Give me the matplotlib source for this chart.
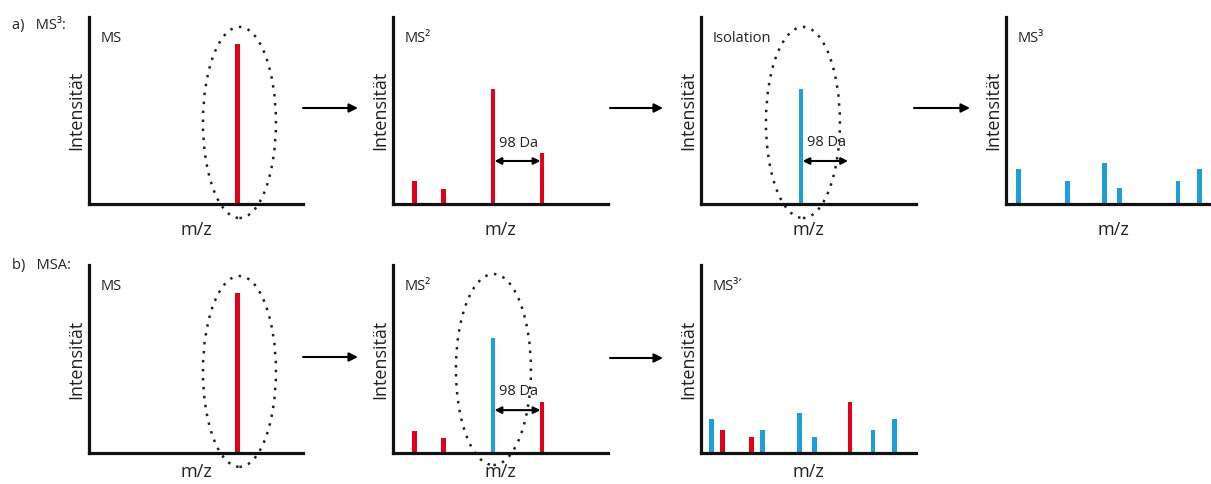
import matplotlib
matplotlib.use("Agg")
import matplotlib.pyplot as plt
from matplotlib.patches import Ellipse, FancyArrowPatch

plt.rcParams['font.family'] = ['Open Sans', 'DejaVu Sans']

W, H = 1211, 484
RED = '#e2001a'
BLUE = '#1e9fd9'

# ---- data (m/z in arbitrary units 0-100, intensity in % of axis height) ----
a1_mz = [69.2]
a1_int = [85.6]
a1_col = ['r']

a2_mz = [10.2, 23.7, 46.5, 69.3]
a2_int = [12.3, 8.0, 61.5, 27.3]
a2_col = ['r', 'r', 'r', 'r']

a3_mz = [46.5]
a3_int = [61.5]
a3_col = ['b']

a4_mz = [6.0, 28.8, 46.0, 53.0, 80.0, 89.8]
a4_int = [18.7, 12.3, 21.9, 8.6, 12.3, 18.7]
a4_col = ['b', 'b', 'b', 'b', 'b', 'b']

b1_mz = [69.2]
b1_int = [85.1]
b1_col = ['r']

b2_mz = [10.2, 23.7, 46.5, 69.3]
b2_int = [11.7, 8.0, 61.2, 27.1]
b2_col = ['r', 'r', 'b', 'r']

b3_mz = [5.1, 10.2, 23.3, 28.8, 46.0, 53.0, 69.3, 80.0, 89.8]
b3_int = [18.1, 12.2, 8.5, 12.2, 21.3, 8.5, 27.1, 12.2, 18.1]
b3_col = ['b', 'r', 'r', 'b', 'b', 'b', 'r', 'b', 'b']

titles = ['MS', 'MS²', 'Isolation', 'MS³', 'MS', 'MS²', 'MS³´']
row_labels = ['a)   MS³:', 'b)   MSA:']
loss_label = '98 Da'

fig = plt.figure(figsize=(W / 100, H / 100), dpi=100)


def make_axes(left, right, bottom, top, xpad=12):
    ax = fig.add_axes([left / W, 1 - bottom / H, (right - left) / W, (bottom - top) / H])
    ax.set_xlim(0, 100)
    ax.set_ylim(0, 100)
    for s in ['top', 'right']:
        ax.spines[s].set_visible(False)
    for s in ['left', 'bottom']:
        ax.spines[s].set_linewidth(2.3)
        ax.spines[s].set_color('#111111')
    ax.set_xticks([])
    ax.set_yticks([])
    ax.set_ylabel('Intensität', fontsize=13, labelpad=3, color='#222222')
    ax.set_xlabel('m/z', fontsize=13, labelpad=xpad, color='#222222')
    ax.patch.set_alpha(0)
    return ax


def peaks(ax, mz, inten, cols):
    c = [RED if k == 'r' else BLUE for k in cols]
    ax.bar(mz, inten, width=2.3, color=c, linewidth=0)


def ellipse(ax, cx, cy, w, h):
    e = Ellipse((cx, cy), w, h, fill=False, edgecolor='#222222', lw=1.8,
                linestyle=(0, (1, 2.6)), clip_on=False)
    ax.add_patch(e)


def loss_arrow(ax, x0, x1, y, ty, tx):
    ax.annotate('', xy=(x1, y), xytext=(x0, y),
                arrowprops=dict(arrowstyle='<|-|>', color='black', lw=1.5,
                                mutation_scale=10, shrinkA=0, shrinkB=0))
    ax.text(tx, ty, loss_label, fontsize=10.5, ha='center', va='center', color='#222222')


def title(ax, s):
    ax.text(0.055, 0.885, s, transform=ax.transAxes, fontsize=10.5,
            ha='left', va='center', color='#222222')


# row a
ax_a1 = make_axes(89, 303, 204, 17)
peaks(ax_a1, a1_mz, a1_int, a1_col)
ellipse(ax_a1, 70.3, 43.6, 34.1, 102.2)
title(ax_a1, titles[0])

ax_a2 = make_axes(393, 608, 204, 17)
peaks(ax_a2, a2_mz, a2_int, a2_col)
loss_arrow(ax_a2, 47.2, 68.6, 23.0, 32.6, 58.6)
title(ax_a2, titles[1])

ax_a3 = make_axes(701, 916, 204, 17)
peaks(ax_a3, a3_mz, a3_int, a3_col)
ellipse(ax_a3, 47.4, 43.6, 34.4, 102.2)
loss_arrow(ax_a3, 47.2, 68.4, 23.0, 33.0, 58.4)
title(ax_a3, titles[2])

ax_a4 = make_axes(1006, 1221, 204, 17)
peaks(ax_a4, a4_mz, a4_int, a4_col)
title(ax_a4, titles[3])

# row b
ax_b1 = make_axes(89, 303, 453, 265, xpad=7)
peaks(ax_b1, b1_mz, b1_int, b1_col)
ellipse(ax_b1, 70.3, 43.4, 34.1, 101.5)
title(ax_b1, titles[4])

ax_b2 = make_axes(393, 608, 453, 265, xpad=7)
peaks(ax_b2, b2_mz, b2_int, b2_col)
ellipse(ax_b2, 46.7, 44.4, 34.9, 101.6)
loss_arrow(ax_b2, 47.2, 68.6, 22.8, 32.5, 58.6)
title(ax_b2, titles[5])

ax_b3 = make_axes(701, 916, 453, 265, xpad=7)
peaks(ax_b3, b3_mz, b3_int, b3_col)
title(ax_b3, titles[6])

# row labels
fig.text(12 / W, 1 - 25 / H, row_labels[0], fontsize=10.5, ha='left', va='center', color='#222222')
fig.text(12 / W, 1 - 265 / H, row_labels[1], fontsize=10.5, ha='left', va='center', color='#222222')

# process arrows between panels
for (x0, x1, y) in [(303, 358, 108), (610, 663, 108), (914, 970, 108),
                    (303, 358, 357), (610, 663, 358)]:
    fig.add_artist(FancyArrowPatch(
        (x0 / W, 1 - y / H), (x1 / W, 1 - y / H), transform=fig.transFigure,
        arrowstyle='-|>', mutation_scale=13, lw=1.5, color='black',
        shrinkA=0, shrinkB=0))

fig.savefig('out.png', dpi=100, facecolor='white')
